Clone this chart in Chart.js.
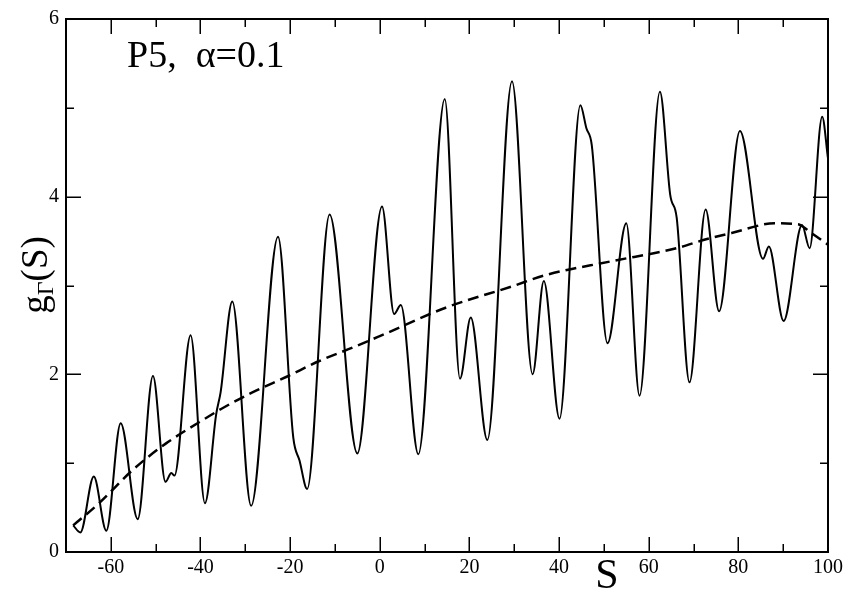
<!DOCTYPE html>
<html>
<head>
<meta charset="utf-8">
<script src="https://cdn.jsdelivr.net/npm/chart.js@4/dist/chart.umd.min.js"></script>
<style>
html,body{margin:0;padding:0;background:#fff;}
#wrap{position:relative;width:847px;height:591px;}
</style>
</head>
<body>
<div id="wrap"><canvas id="c" width="847" height="591"></canvas></div>
<script>
// Solid curve g_Γ(S)
const solidS = [-68.4,-66.8,-63.8,-61.0,-57.8,-54.0,-50.6,-47.8,-46.5,-45.8,-42.2,-39.0,-36.5,-35.5,-32.9,-28.7,-22.7,-19.3,-17.9,-16.2,-11.2,-5.0,0.5,3.2,4.7,8.6,14.5,17.9,20.3,24.0,29.5,34.1,36.6,40.1,44.75,46.1,47.3,50.8,55.0,57.95,62.5,64.8,66.25,69.1,72.7,75.7,80.35,85.5,86.8,90.1,94.2,95.9,98.7,100];
const solidG = [0.30,0.22,0.85,0.24,1.45,0.37,1.98,0.79,0.89,0.86,2.44,0.55,1.55,1.80,2.82,0.52,3.55,1.29,1.03,0.71,3.80,1.11,3.89,2.68,2.78,1.10,5.10,1.95,2.64,1.26,5.30,2.00,3.05,1.50,5.03,4.77,4.58,2.35,3.70,1.76,5.18,4.02,3.76,1.91,3.855,2.71,4.74,3.30,3.44,2.60,3.68,3.42,4.90,4.43];
// Dashed smooth curve
const fitS = [-68.4,-62.6,-55.2,-47.75,-40.3,-35.4,-28.3,-20.9,-13.5,-6.1,0,14.7,29.5,37.2,51.4,66.2,72.8,78.5,88.1,93.3,96.3,100];
const fitG = [0.30,0.55,0.92,1.22,1.46,1.61,1.80,1.97,2.15,2.30,2.43,2.75,2.99,3.12,3.27,3.42,3.52,3.59,3.70,3.69,3.59,3.46];
// Axes
const xTicks = [-60,-40,-20,0,20,40,60,80,100];
const xMinorTicks = [-50,-30,-10,10,30,50,70,90];
const yTicks = [0,2,4,6];
const yMinorTicks = [1,3,5];
const xMin = -70, xMax = 100, yMin = 0, yMax = 6;

const serif = "'Liberation Serif','DejaVu Serif',serif";

const decor = {
  id: 'decor',
  afterDraw(chart) {
    const {ctx, chartArea: a, scales: {x, y}} = chart;
    ctx.save();
    ctx.strokeStyle = '#000';
    ctx.lineWidth = 2;
    ctx.strokeRect(a.left, a.top, a.right - a.left, a.bottom - a.top);
    ctx.lineWidth = 1.5;
    ctx.beginPath();
    const xt = (v, L) => { const p = Math.round(x.getPixelForValue(v)) + 0.25;
      ctx.moveTo(p, a.bottom); ctx.lineTo(p, a.bottom - L);
      ctx.moveTo(p, a.top); ctx.lineTo(p, a.top + L); };
    const yt = (v, L) => { const p = Math.round(y.getPixelForValue(v)) + 0.25;
      ctx.moveTo(a.left, p); ctx.lineTo(a.left + L, p);
      ctx.moveTo(a.right, p); ctx.lineTo(a.right - L, p); };
    xTicks.forEach(v => xt(v, 15));
    xMinorTicks.forEach(v => xt(v, 8));
    yTicks.forEach(v => yt(v, 15));
    yMinorTicks.forEach(v => yt(v, 8));
    ctx.stroke();

    ctx.fillStyle = '#000';
    // Panel label
    ctx.font = '38px ' + serif;
    ctx.textAlign = 'left';
    ctx.textBaseline = 'alphabetic';
    ctx.fillText('P5,  \u03b1=0.1', 127, 67);
    // x title
    ctx.font = '42px ' + serif;
    ctx.textAlign = 'center';
    ctx.fillText('S', 607, 588);
    // y title rotated
    ctx.translate(47, 275);
    ctx.rotate(-Math.PI / 2);
    const big = '37px ' + serif, small = '24px ' + serif;
    ctx.font = big; const wg = ctx.measureText('g').width; const ws = ctx.measureText('(S)').width;
    ctx.font = small; const wG = ctx.measureText('\u0393').width;
    let sx = -(wg + wG + ws) / 2;
    ctx.textAlign = 'left';
    ctx.font = big; ctx.fillText('g', sx, 0); sx += wg;
    ctx.font = small; ctx.fillText('\u0393', sx, 6); sx += wG;
    ctx.font = big; ctx.fillText('(S)', sx, 0);
    ctx.restore();
  }
};

new Chart(document.getElementById('c'), {
  type: 'line',
  data: {
    datasets: [
      {
        data: solidS.map((s, i) => ({x: s, y: solidG[i]})),
        borderColor: '#000', borderWidth: 2, pointRadius: 0,
        cubicInterpolationMode: 'monotone', fill: false
      },
      {
        data: fitS.map((s, i) => ({x: s, y: fitG[i]})),
        borderColor: '#000', borderWidth: 2.5, borderDash: [11, 6], pointRadius: 0,
        cubicInterpolationMode: 'monotone', fill: false
      }
    ]
  },
  options: {
    responsive: false, animation: false,
    layout: {padding: {top: 17, right: 17, left: 0, bottom: 0}},
    plugins: {legend: {display: false}, tooltip: {enabled: false}},
    scales: {
      x: {
        type: 'linear', min: xMin, max: xMax,
        grid: {display: false, drawTicks: false}, border: {display: false},
        afterBuildTicks: s => { s.ticks = xTicks.map(v => ({value: v})); },
        afterFit: s => { s.height = 39; },
        ticks: {color: '#000', padding: 4, maxRotation: 0, autoSkip: false,
          font: {family: serif, size: 20}, callback: v => String(v)}
      },
      y: {
        type: 'linear', min: yMin, max: yMax,
        grid: {display: false, drawTicks: false}, border: {display: false},
        afterBuildTicks: s => { s.ticks = yTicks.map(v => ({value: v})); },
        afterFit: s => { s.width = 66; },
        ticks: {color: '#000', padding: 7, font: {family: serif, size: 20}, callback: v => String(v)}
      }
    }
  },
  plugins: [decor]
});
</script>
</body>
</html>
